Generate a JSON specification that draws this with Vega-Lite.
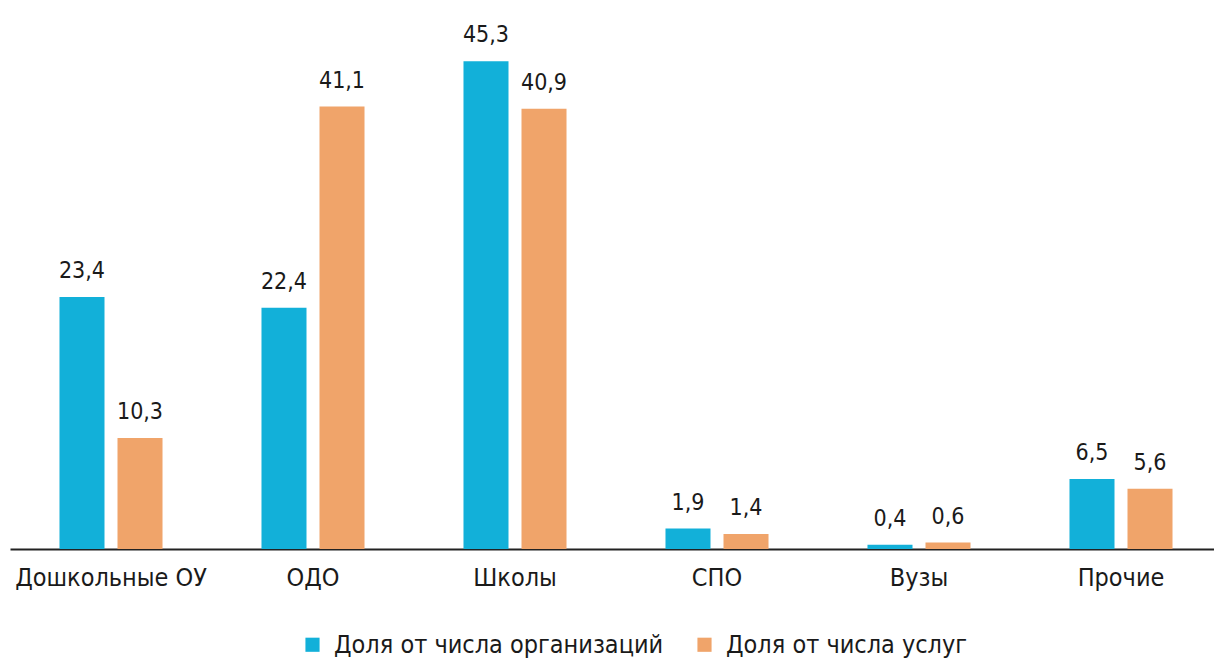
{
  "$schema": "https://vega.github.io/schema/vega-lite/v6.json",
  "autosize": {"type": "none"},
  "width": 1212,
  "height": 549,
  "padding": {"left": 10, "top": 0, "right": 0, "bottom": 113},
  "background": "white",
  "config": {
    "view": {"stroke": null},
    "font": "DejaVu Sans Condensed",
    "locale": {"number": {"decimal": ",", "thousands": " ", "grouping": [3], "currency": ["", ""]}}
  },
  "data": {
    "values": [
      {"cat": "Дошкольные ОУ", "series": "Доля от числа организаций", "v": 23.4},
      {"cat": "Дошкольные ОУ", "series": "Доля от числа услуг", "v": 10.3},
      {"cat": "ОДО", "series": "Доля от числа организаций", "v": 22.4},
      {"cat": "ОДО", "series": "Доля от числа услуг", "v": 41.1},
      {"cat": "Школы", "series": "Доля от числа организаций", "v": 45.3},
      {"cat": "Школы", "series": "Доля от числа услуг", "v": 40.9},
      {"cat": "СПО", "series": "Доля от числа организаций", "v": 1.9},
      {"cat": "СПО", "series": "Доля от числа услуг", "v": 1.4},
      {"cat": "Вузы", "series": "Доля от числа организаций", "v": 0.4},
      {"cat": "Вузы", "series": "Доля от числа услуг", "v": 0.6},
      {"cat": "Прочие", "series": "Доля от числа организаций", "v": 6.5},
      {"cat": "Прочие", "series": "Доля от числа услуг", "v": 5.6}
    ]
  },
  "encoding": {
    "x": {
      "field": "cat", "type": "nominal", "sort": null,
      "scale": {"paddingInner": 0, "paddingOuter": 0},
      "axis": {"title": null, "labelAngle": 0, "ticks": false, "domainColor": "#222", "domainWidth": 2,
               "labelFontSize": 25, "labelColor": "#1a1a1a", "labelPadding": 16, "labelLimit": 400,
               "labelFont": "DejaVu Sans Condensed"}
    },
    "xOffset": {"field": "series", "type": "nominal", "scale": {"paddingInner": 0.224, "paddingOuter": 0.853}},
    "y": {"field": "v", "type": "quantitative", "scale": {"domain": [0, 51]}, "axis": null}
  },
  "layer": [
    {
      "mark": {"type": "bar"},
      "encoding": {
        "color": {
          "field": "series", "type": "nominal",
          "scale": {"range": ["#12b0d9", "#f0a46a"]},
          "legend": {
            "title": null, "orient": "none", "legendX": 290, "legendY": 632, "direction": "horizontal",
            "symbolType": "square", "symbolSize": 200, "labelFontSize": 25, "labelColor": "#1a1a1a",
            "labelFont": "DejaVu Sans Condensed", "columnPadding": 28, "labelOffset": 9, "labelLimit": 400
          }
        }
      }
    },
    {
      "mark": {"type": "text", "baseline": "bottom", "dy": -14, "fontSize": 23, "color": "#1a1a1a"},
      "encoding": {
        "text": {"field": "v", "type": "quantitative", "format": ".1f"}
      }
    }
  ]
}
